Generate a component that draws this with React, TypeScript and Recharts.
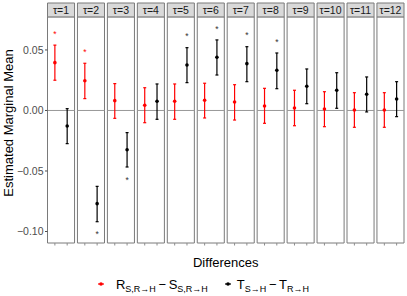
import React from 'react'
import {
  ScatterChart,
  Scatter,
  XAxis,
  YAxis,
  ErrorBar,
  ReferenceArea,
  ReferenceLine,
  Legend,
  Label,
} from 'recharts'

// facet labels
const taus = ['τ=1', 'τ=2', 'τ=3', 'τ=4', 'τ=5', 'τ=6', 'τ=7', 'τ=8', 'τ=9', 'τ=10', 'τ=11', 'τ=12']

// R(S,R→H) − S(S,R→H)
const redMean = [0.0395, 0.0246, 0.0081, 0.0043, 0.0076, 0.0084, 0.007, 0.0037, 0.0021, 0.0012, 0.0004, 0.0004]
const redLow = [0.025, 0.0098, -0.0065, -0.0101, -0.0073, -0.0062, -0.0079, -0.0106, -0.0126, -0.0134, -0.0139, -0.0139]
const redHigh = [0.054, 0.039, 0.0222, 0.0188, 0.0219, 0.0225, 0.0213, 0.0183, 0.0167, 0.0155, 0.0147, 0.0147]
const redStar = [0.064, 0.049, null, null, null, null, null, null, null, null, null, null]

// T(S→H) − T(R→H)
const blackMean = [-0.0128, -0.077, -0.0324, 0.0076, 0.0376, 0.044, 0.0387, 0.0332, 0.02, 0.0167, 0.0134, 0.0095]
const blackLow = [-0.0274, -0.0919, -0.0467, -0.0073, 0.023, 0.0293, 0.0238, 0.018, 0.0056, 0.0018, -0.0012, -0.0051]
const blackHigh = [0.0015, -0.0627, -0.0183, 0.0219, 0.0519, 0.0583, 0.0527, 0.0475, 0.0343, 0.0312, 0.0277, 0.0238]
const blackStar = [null, -0.1018, -0.0569, null, 0.0624, 0.068, 0.0632, 0.0572, null, null, null, null]

const yTicks = [-0.1, -0.05, 0, 0.05]

const FONT = '"Liberation Sans", Arial, Helvetica, sans-serif'
const RED = '#FF0000'
const BLACK = '#000000'

// facet geometry in x units (two discrete slots per panel)
const PANEL_W = 2.2
const STEP = 2.436
const X_MAX = taus.length * STEP - (STEP - PANEL_W)
const SLOT = [0.6, 1.6]

// y range: panel area + strip on top
const Y_MIN = -0.1095
const Y_PANEL_TOP = 0.0773
const Y_MAX = 0.0888

const buildSeries = (mean: number[], low: number[], high: number[], slot: number) =>
  mean.map((m, i) => ({
    x: i * STEP + SLOT[slot],
    y: m,
    err: [m - low[i], high[i] - m],
  }))

const buildStars = (stars: (number | null)[], slot: number) =>
  stars
    .map((s, i) => (s === null ? null : { x: i * STEP + SLOT[slot], y: s }))
    .filter(Boolean) as { x: number; y: number }[]

const redData = buildSeries(redMean, redLow, redHigh, 0)
const blackData = buildSeries(blackMean, blackLow, blackHigh, 1)
const redStars = buildStars(redStar, 0)
const blackStars = buildStars(blackStar, 1)

const xTicks = taus.flatMap((_, i) => SLOT.map((s) => i * STEP + s))

const fmtY = (v: number) => (v < 0 ? '\u2212' + Math.abs(v).toFixed(2) : v.toFixed(2))

const dot = (color: string) => (props: any) => (
  <circle cx={props.cx} cy={props.cy} r={1.8} fill={color} />
)

const star = (color: string) => (props: any) => (
  <text x={props.cx} y={props.cy + 3.8} textAnchor="middle" fontSize={8.5} fill={color} fontFamily={FONT}>
    *
  </text>
)

const legendItems = [
  { color: RED, parts: [['R', 'S,R→H'], ['S', 'S,R→H']], gap: 9 },
  { color: BLACK, parts: [['T', 'S→H'], ['T', 'R→H']], gap: 3 },
]

const LegendContent = () => (
  <div
    style={{
      display: 'flex',
      justifyContent: 'center',
      alignItems: 'center',
      fontFamily: FONT,
      fontSize: 13,
      color: '#000',
      height: 20,
    }}
  >
    {legendItems.map((item, k) => (
      <div key={k} style={{ display: 'flex', alignItems: 'center', marginLeft: k > 0 ? 14 : 0 }}>
        <svg width={12} height={8}>
          <line x1={3} x2={9} y1={4} y2={4} stroke={item.color} strokeWidth={1.2} />
          <circle cx={6} cy={4} r={1.8} fill={item.color} />
        </svg>
        <span style={{ marginLeft: item.gap, whiteSpace: 'nowrap' }}>
          {item.parts.map(([main, sub], j) => (
            <React.Fragment key={j}>
              {j > 0 ? '\u2009\u2212\u2009' : ''}
              {main}
              <sub style={{ fontSize: 9, verticalAlign: '-3px', lineHeight: 0 }}>{sub}</sub>
            </React.Fragment>
          ))}
        </span>
      </div>
    ))}
  </div>
)

export default function App() {
  return (
    <div style={{ position: 'absolute', left: 0, top: 0, width: 407, height: 296, background: '#fff', fontFamily: FONT }}>
      <ScatterChart width={407} height={296} margin={{ top: 3, right: 3, bottom: 2, left: 0 }}>
        <XAxis
          type="number"
          dataKey="x"
          domain={[0, X_MAX]}
          ticks={xTicks}
          interval={0}
          tickFormatter={() => ''}
          axisLine={false}
          tickLine={{ stroke: '#8c8c8c' }}
          tickSize={2.5}
          height={31}
          allowDataOverflow
        >
          <Label value="Differences" position="center" dy={4} fontSize={13} fill="#000" fontFamily={FONT} />
        </XAxis>
        <YAxis
          type="number"
          dataKey="y"
          domain={[Y_MIN, Y_MAX]}
          ticks={yTicks}
          interval={0}
          tickFormatter={fmtY}
          axisLine={false}
          tickLine={{ stroke: '#4d4d4d' }}
          tickSize={2.5}
          tickMargin={1.5}
          tick={{ fontSize: 10.5, fill: '#4d4d4d', fontFamily: FONT }}
          width={47.5}
          allowDataOverflow
        >
          <Label value="Estimated Marginal Mean" angle={-90} position="center" dx={-15} fontSize={13} fill="#000" fontFamily={FONT} />
        </YAxis>

        {/* panels + strips */}
        {taus.map((t, i) => (
          <ReferenceArea
            key={'p' + t}
            x1={i * STEP}
            x2={i * STEP + PANEL_W}
            y1={Y_MIN}
            y2={Y_PANEL_TOP}
            fill="#fff"
            fillOpacity={1}
            stroke="#7a7a7a"
            strokeWidth={1}
            ifOverflow="visible"
          />
        ))}
        {taus.map((t, i) => (
          <ReferenceArea
            key={'s' + t}
            x1={i * STEP}
            x2={i * STEP + PANEL_W}
            y1={Y_PANEL_TOP}
            y2={Y_MAX}
            fill="#d9d9d9"
            fillOpacity={1}
            stroke="#7a7a7a"
            strokeWidth={1}
            ifOverflow="visible"
            label={{ value: t, position: 'center', fontSize: 10.5, fill: '#1a1a1a', fontFamily: FONT }}
          />
        ))}
        {taus.map((t, i) => (
          <ReferenceLine
            key={'z' + t}
            segment={[
              { x: i * STEP, y: 0 },
              { x: i * STEP + PANEL_W, y: 0 },
            ]}
            stroke="#999"
            strokeWidth={1}
            ifOverflow="visible"
          />
        ))}

        <Scatter data={redData} fill={RED} shape={dot(RED)} isAnimationActive={false} legendType="none">
          <ErrorBar dataKey="err" direction="y" width={1.5} stroke={RED} strokeWidth={1.2} isAnimationActive={false} />
        </Scatter>
        <Scatter data={blackData} fill={BLACK} shape={dot(BLACK)} isAnimationActive={false} legendType="none">
          <ErrorBar dataKey="err" direction="y" width={1.5} stroke={BLACK} strokeWidth={1.2} isAnimationActive={false} />
        </Scatter>
        <Scatter data={redStars} shape={star(RED)} isAnimationActive={false} legendType="none" />
        <Scatter data={blackStars} shape={star('#333')} isAnimationActive={false} legendType="none" />

        <Legend verticalAlign="bottom" align="center" height={20} content={<LegendContent />} />
      </ScatterChart>
    </div>
  )
}
